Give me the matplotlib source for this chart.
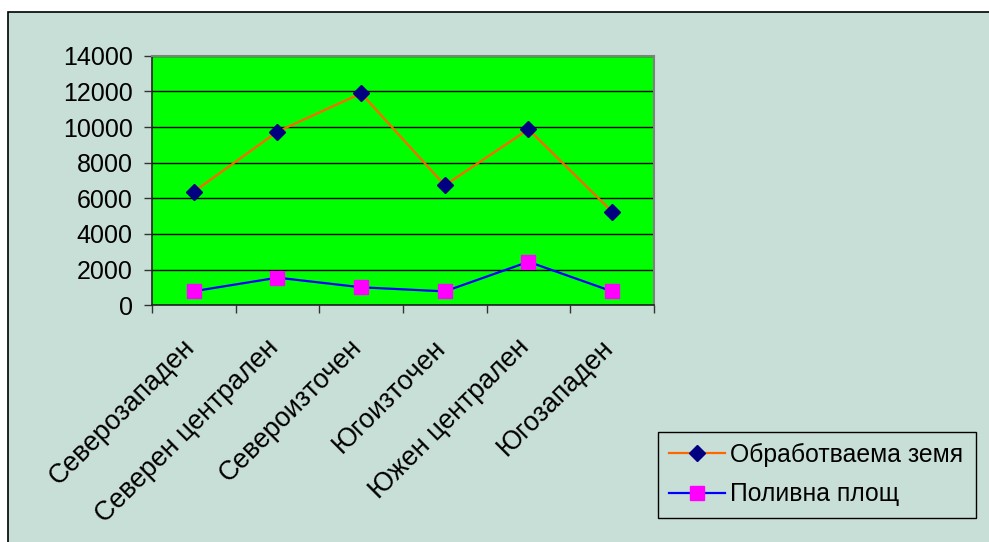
import matplotlib.pyplot as plt
from matplotlib.patches import Rectangle
from matplotlib.transforms import ScaledTranslation

regions = ['Северозападен', 'Северен централен', 'Североизточен',
           'Югоизточен', 'Южен централен', 'Югозападен']
arable = [6370, 9740, 11890, 6730, 9870, 5250]
irrigated = [790, 1550, 1010, 780, 2440, 780]
series_names = ['Обработваема земя', 'Поливна площ']
yticks = [0, 2000, 4000, 6000, 8000, 10000, 12000, 14000]

BG = '#c8dfd8'

plt.rcParams['font.family'] = ['Liberation Sans', 'DejaVu Sans']

fig = plt.figure(figsize=(9.89, 5.42), dpi=100)
fig.patch.set_facecolor('white')
# chart area box
fig.patches.append(Rectangle((8 / 989, -0.01), 1.0, 1 - 11.5 / 542 + 0.01,
                             transform=fig.transFigure, facecolor=BG,
                             edgecolor='black', linewidth=1.2, zorder=-1))

ax = fig.add_axes([152 / 989, 1 - 305.3 / 542, 502 / 989, 249.6 / 542])
ax.set_facecolor('#00ff00')

x = list(range(len(regions)))
ax.plot(x, arable, color='#ff6600', linewidth=1.6, marker='D',
        markersize=8, markerfacecolor='#000080', markeredgecolor='#000080',
        label=series_names[0], zorder=3)
ax.plot(x, irrigated, color='#0000ff', linewidth=1.6, marker='s',
        markersize=9.5, markerfacecolor='#ff00ff', markeredgecolor='#ff00ff',
        label=series_names[1], zorder=3)

ax.set_xlim(-0.5, len(regions) - 0.5)
ax.set_ylim(0, 14000)
ax.set_yticks(yticks)
ax.set_yticklabels([str(v) for v in yticks], fontsize=18)
ax.yaxis.grid(True, color='black', linewidth=1)
ax.set_axisbelow(True)

ax.set_xticks([i - 0.5 for i in range(len(regions) + 1)])
ax.set_xticklabels([])
ax.set_xticks(x, minor=True)
ax.set_xticklabels(regions, minor=True, rotation=45, ha='right', va='top',
                   rotation_mode='anchor', fontsize=19.3)
ax.tick_params(axis='x', which='minor', length=0, pad=21)
ax.tick_params(axis='both', which='major', length=6, width=1, color='#333333',
               direction='out')
ax.tick_params(axis='y', pad=8)
shift = ScaledTranslation(-12 / 100, 0, fig.dpi_scale_trans)
for lbl in ax.get_xticklabels(minor=True):
    lbl.set_transform(lbl.get_transform() + shift)

for side in ['top', 'right']:
    ax.spines[side].set_color('#808080')
    ax.spines[side].set_linewidth(1.5)
for side in ['left', 'bottom']:
    ax.spines[side].set_color('#222222')
    ax.spines[side].set_linewidth(1.2)

leg = ax.legend(loc='lower left', bbox_to_anchor=(658 / 989, 1 - 517.5 / 542,
                                                   317.5 / 989, 85 / 542),
                bbox_transform=fig.transFigure, mode='expand',
                fontsize=17.8, frameon=True, fancybox=False,
                handlelength=2.25, handletextpad=0.22, borderaxespad=0,
                labelspacing=0.62, borderpad=0.45)
leg.get_frame().set_facecolor(BG)
leg.get_frame().set_edgecolor('black')
leg.get_frame().set_linewidth(1)
leg.get_frame().set_alpha(1)

fig.savefig('out.png', dpi=100)
